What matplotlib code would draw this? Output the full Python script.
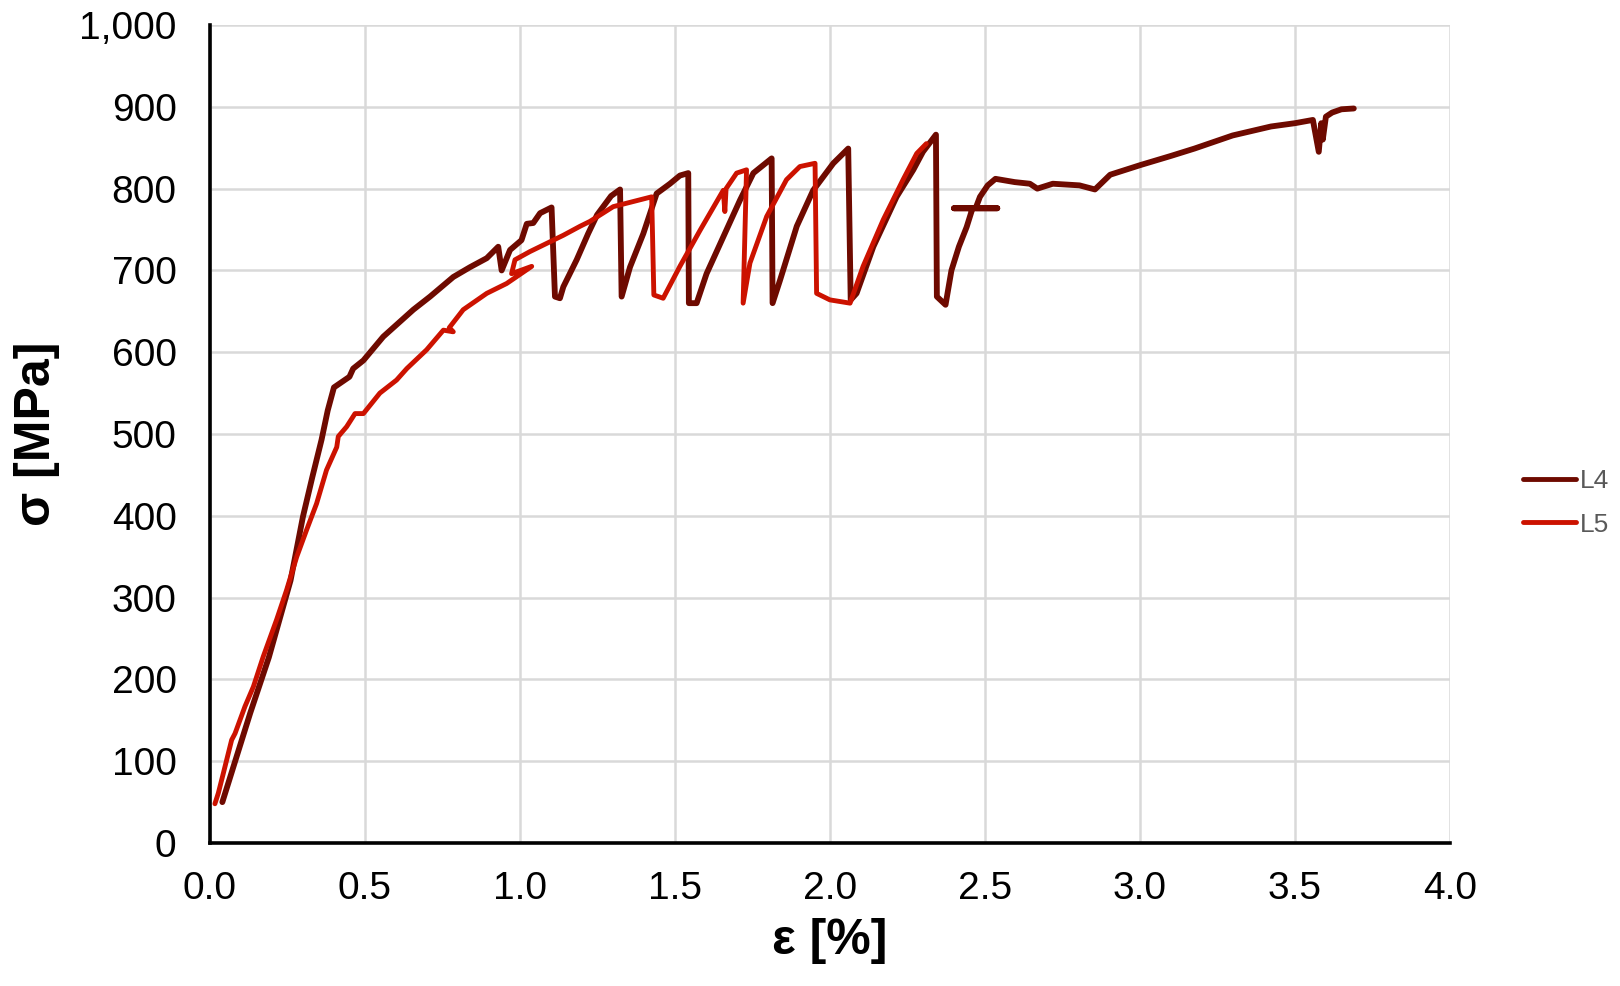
import matplotlib
matplotlib.use("Agg")
import matplotlib.pyplot as plt
from matplotlib.ticker import FuncFormatter, MultipleLocator

plt.rcParams['font.family'] = ['Liberation Sans', 'DejaVu Sans']

# strain [%] / stress [MPa] for specimen L4
eps_l4 = [0.04, 0.13, 0.19, 0.26, 0.30, 0.33, 0.36, 0.38, 0.40, 0.45, 0.462, 0.495,
          0.559, 0.656, 0.71, 0.785, 0.839, 0.893, 0.930, 0.941, 0.968, 1.005,
          1.022, 1.043, 1.065, 1.102,
          1.113, 1.129, 1.14, 1.183, 1.22, 1.249, 1.294, 1.323,
          1.328, 1.355, 1.398, 1.441, 1.484, 1.516, 1.543,
          1.545, 1.57, 1.602, 1.656, 1.71, 1.753, 1.812,
          1.815, 1.839, 1.893, 1.946, 2.011, 2.059,
          2.067, 2.086, 2.14, 2.215, 2.269, 2.30, 2.342,
          2.345, 2.373, 2.392, 2.416, 2.441, 2.46, 2.40, 2.54, 2.47, 2.484, 2.509, 2.534,
          2.596, 2.645, 2.669, 2.719, 2.805, 2.855, 2.904, 3.003, 3.10, 3.176, 3.299,
          3.423, 3.50, 3.558, 3.577, 3.585, 3.59, 3.60, 3.62, 3.65, 3.69]
sig_l4 = [50, 159, 227, 321, 399, 447, 493, 529, 557, 570, 580, 590,
          619, 652, 668, 692, 704, 715, 729, 700, 725, 737,
          757, 758, 770, 777,
          668, 666, 680, 713, 745, 768, 791, 799,
          668, 704, 745, 794, 806, 816, 819,
          660, 660, 696, 741, 786, 819, 837,
          660, 688, 754, 798, 831, 849,
          664, 672, 729, 790, 823, 845, 866,
          668, 658, 700, 729, 753, 776, 776, 776, 776, 790, 804, 812,
          808, 806, 800, 806, 804, 799, 817, 829, 840, 849, 865,
          876, 880, 884, 845, 880, 860, 888, 893, 897, 898]

# strain [%] / stress [MPa] for specimen L5
eps_l5 = [0.016, 0.027, 0.043, 0.070, 0.081, 0.113, 0.14, 0.172, 0.215, 0.247,
          0.28, 0.312, 0.344, 0.376, 0.409, 0.414, 0.441, 0.468, 0.495, 0.548,
          0.602, 0.635, 0.699, 0.753, 0.785, 0.772, 0.817, 0.893, 0.957, 1.038,
          0.973, 0.984, 1.032, 1.14, 1.194, 1.226, 1.301, 1.425,
          1.432, 1.462, 1.516, 1.581, 1.656, 1.661, 1.665, 1.699, 1.731,
          1.720, 1.742, 1.796, 1.86, 1.903, 1.952,
          1.957, 2.0, 2.065, 2.107, 2.172, 2.236, 2.28, 2.311]
sig_l5 = [48, 61, 85, 126, 134, 167, 191, 228, 273, 309,
          350, 383, 415, 456, 484, 497, 509, 525, 525, 550,
          566, 580, 603, 627, 625, 630, 652, 672, 684, 705,
          696, 713, 723, 743, 754, 760, 778, 790,
          670, 666, 705, 749, 798, 772, 800, 819, 823,
          660, 709, 766, 811, 827, 831,
          672, 664, 660, 705, 762, 811, 843, 855]

series = [("L4", eps_l4, sig_l4, '#6E0A00', 4.2),
          ("L5", eps_l5, sig_l5, '#CC1200', 3.5)]

fig = plt.figure(figsize=(16.2, 9.86), dpi=100)
ax = fig.add_axes([0.1296, 0.145, 0.7654, 0.8296])

for name, x, y, col, lw in series:
    ax.plot(x, y, color=col, lw=lw, label=name, solid_joinstyle='round',
            solid_capstyle='round', zorder=3)

ax.set_xlim(0, 4.0)
ax.set_ylim(0, 1000)
ax.xaxis.set_major_locator(MultipleLocator(0.5))
ax.yaxis.set_major_locator(MultipleLocator(100))
ax.xaxis.set_major_formatter(FuncFormatter(lambda v, p: f"{v:.1f}"))
ax.yaxis.set_major_formatter(FuncFormatter(lambda v, p: f"{v:,.0f}"))

ax.grid(True, color='#D9D9D9', lw=1.8, zorder=0)
ax.set_axisbelow(True)
for s in ['top', 'right']:
    ax.spines[s].set_visible(False)
for s in ['left', 'bottom']:
    ax.spines[s].set_linewidth(2.6)
    ax.spines[s].set_color('black')
    ax.spines[s].set_zorder(4)

ax.tick_params(axis='both', length=0, labelsize=28, colors='black')
ax.tick_params(axis='y', pad=24)
ax.tick_params(axis='x', pad=20)

ax.set_xlabel('ε [%]', fontsize=36, fontweight='bold', labelpad=8)
ax.set_ylabel('σ [MPa]', fontsize=36, fontweight='bold', labelpad=14)

leg = ax.legend(loc='center left', bbox_to_anchor=(1.04, 0.416), frameon=False,
                fontsize=19, handlelength=2.0, handletextpad=0.15, labelspacing=0.75,
                labelcolor='#595959')
for h in leg.get_lines():
    h.set_linewidth(3.5)

fig.savefig('out.png', dpi=100)
